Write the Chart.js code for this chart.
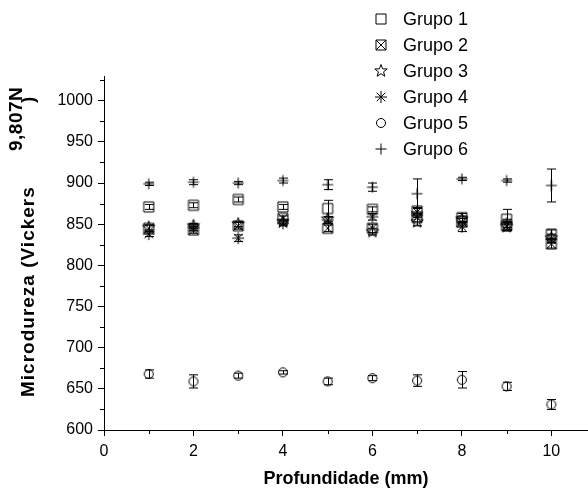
<!DOCTYPE html>
<html><head><meta charset="utf-8">
<script src="https://cdn.jsdelivr.net/npm/chart.js@4.4.0/dist/chart.umd.min.js"></script>
<style>
html,body{margin:0;padding:0;background:#fff;}
#wrap{position:relative;width:588px;height:494px;overflow:hidden;}
#c{position:absolute;left:0;top:0;}
.yt{position:absolute;transform:rotate(-90deg);transform-origin:left top;white-space:nowrap;font-family:"Liberation Sans",Arial,sans-serif;font-weight:bold;color:#000;}
.li{position:absolute;white-space:nowrap;font:18px "Liberation Sans",Arial,sans-serif;color:#000;line-height:20px;}
.ic{position:absolute;}
</style></head><body>
<div id="wrap">
<canvas id="c" width="588" height="494"></canvas>
<div class="yt" style="left:18px;top:397px;font-size:19px;line-height:20px;letter-spacing:1px;">Microdureza (Vickers</div>
<div class="yt" style="left:6px;top:151px;font-size:19px;line-height:20px;letter-spacing:0.5px;">9,807N</div>
<div class="yt" style="left:18px;top:103px;font-size:19px;line-height:20px;">)</div>
<div id="legend"></div>
</div>
<script>
// ---- data ----
const depths = [1, 2, 3, 4, 5, 6, 7, 8, 9, 10];
const seriesNames = ['Grupo 1', 'Grupo 2', 'Grupo 3', 'Grupo 4', 'Grupo 5', 'Grupo 6'];
const grupo1 = [871, 873, 880, 871, 869, 868, 866, 858, 856, 838];
const grupo1Err = [3, 3, 3, 3, 10, 3, 4, 5, 12, 5];
const grupo2 = [845, 843, 848, 857, 845, 845, 858, 853, 848, 826];
const grupo2Err = [4, 4, 4, 3, 4, 5, 5, 4, 5, 5];
const grupo3 = [846, 848, 850, 853, 856, 841, 853, 856, 847, 833];
const grupo3Err = [3, 3, 3, 3, 3, 4, 5, 4, 5, 5];
const grupo4 = [838, 846, 833, 851, 855, 859, 865, 847, 851, 832];
const grupo4Err = [3, 4, 4, 3, 4, 4, 5, 6, 5, 5];
const grupo5 = [668, 659, 666, 670, 659, 663, 660, 661, 653, 631];
const grupo5Err = [5, 8, 3, 2, 4, 3, 7, 10, 5, 6];
const grupo6 = [899, 901, 900, 903, 898, 895, 887, 905, 903, 897];
const grupo6Err = [2, 3, 2, 3, 6, 5, 18, 2, 2, 20];
const xTickLabels = ['0', '2', '4', '6', '8', '10'];
const yTickLabels = ['600', '650', '700', '750', '800', '850', '900', '950', '1000'];

const allMeans = [grupo1, grupo2, grupo3, grupo4, grupo5, grupo6];
const allErrs = [grupo1Err, grupo2Err, grupo3Err, grupo4Err, grupo5Err, grupo6Err];
const symbols = ['square', 'sqx', 'star5', 'asterisk', 'circle', 'plus'];

function drawSym(g, type, cx, cy) {
  g.save();
  g.strokeStyle = '#000'; g.lineWidth = 1;
  g.beginPath();
  if (type === 'square') {
    g.rect(cx - 5, cy - 5, 10, 10);
  } else if (type === 'sqx') {
    g.rect(cx - 5, cy - 5, 10, 10);
    g.moveTo(cx - 5, cy - 5); g.lineTo(cx + 5, cy + 5);
    g.moveTo(cx + 5, cy - 5); g.lineTo(cx - 5, cy + 5);
  } else if (type === 'star5') {
    const R = 6.5, r = 2.7;
    for (let i = 0; i < 10; i++) {
      const a = -Math.PI / 2 + i * Math.PI / 5;
      const rr = i % 2 === 0 ? R : r;
      const px = cx + rr * Math.cos(a), py = cy + rr * Math.sin(a);
      if (i === 0) g.moveTo(px, py); else g.lineTo(px, py);
    }
    g.closePath();
  } else if (type === 'asterisk') {
    const R = 6, d = R * Math.SQRT1_2;
    g.moveTo(cx - R, cy); g.lineTo(cx + R, cy);
    g.moveTo(cx, cy - R); g.lineTo(cx, cy + R);
    g.moveTo(cx - d, cy - d); g.lineTo(cx + d, cy + d);
    g.moveTo(cx + d, cy - d); g.lineTo(cx - d, cy + d);
  } else if (type === 'circle') {
    g.arc(cx, cy, 4.5, 0, Math.PI * 2);
  } else if (type === 'plus') {
    g.moveTo(cx - 5.5, cy); g.lineTo(cx + 5.5, cy);
    g.moveTo(cx, cy - 5.5); g.lineTo(cx, cy + 5.5);
  }
  g.stroke();
  g.restore();
}
function symCanvas(type) {
  const c = document.createElement('canvas');
  c.width = 16; c.height = 16;
  drawSym(c.getContext('2d'), type, 8, 8);
  return c;
}

const datasets = seriesNames.map((name, i) => ({
  label: name,
  data: depths.map((d, j) => ({ x: d, y: allMeans[i][j], e: allErrs[i][j] })),
  pointStyle: symCanvas(symbols[i]),
  pointRadius: 6,
  pointHoverRadius: 6,
  showLine: false,
  clip: false
}));

const errorBars = {
  id: 'errorBars',
  beforeDatasetsDraw(chart) {
    const { ctx, scales: { x, y } } = chart;
    ctx.save();
    ctx.strokeStyle = '#000'; ctx.lineWidth = 1;
    chart.data.datasets.forEach(ds => {
      ds.data.forEach(p => {
        const px = Math.round(x.getPixelForValue(p.x)) + 0.5;
        const t = y.getPixelForValue(p.y + p.e), b = y.getPixelForValue(p.y - p.e);
        ctx.beginPath();
        ctx.moveTo(px, t); ctx.lineTo(px, b);
        ctx.moveTo(px - 4.5, t); ctx.lineTo(px + 4.5, t);
        ctx.moveTo(px - 4.5, b); ctx.lineTo(px + 4.5, b);
        ctx.stroke();
      });
    });
    ctx.restore();
  }
};

const minorTicks = {
  id: 'minorTicks',
  afterDraw(chart) {
    const { ctx, scales: { x, y } } = chart;
    ctx.save();
    ctx.strokeStyle = '#000'; ctx.lineWidth = 1;
    ctx.beginPath();
    for (let v = 1; v <= 10; v += 2) {
      const px = Math.round(x.getPixelForValue(v)) + 0.5;
      ctx.moveTo(px, y.bottom); ctx.lineTo(px, y.bottom + 4);
    }
    for (let v = 625; v <= 1030; v += 50) {
      const py = Math.round(y.getPixelForValue(v)) + 0.5;
      ctx.moveTo(x.left, py); ctx.lineTo(x.left - 4, py);
    }
    ctx.stroke();
    ctx.restore();
  }
};

const fam = '"Liberation Sans", Arial, sans-serif';
new Chart(document.getElementById('c'), {
  type: 'scatter',
  data: { datasets },
  options: {
    responsive: false,
    animation: false,
    devicePixelRatio: 1,
    layout: { autoPadding: false, padding: { top: 76, left: 0, right: 0, bottom: 0 } },
    plugins: { legend: { display: false }, tooltip: { enabled: false } },
    scales: {
      x: {
        type: 'linear', min: 0, max: 10.82,
        afterFit(s) { s.height = 64; s.paddingRight = 0; s.paddingLeft = 0; },
        border: { color: '#000', width: 1 },
        grid: { drawOnChartArea: false, tickLength: 6, tickColor: '#000' },
        afterBuildTicks(s) { s.ticks = xTickLabels.map(t => ({ value: Number(t) })); },
        ticks: { color: '#000', padding: 6, maxRotation: 0, autoSkip: false, font: { family: fam, size: 16 },
          callback: (v) => xTickLabels.includes(String(v)) ? String(v) : '' },
        title: { display: true, text: 'Profundidade (mm)', color: '#000', font: { family: fam, size: 18, weight: 'bold' }, padding: { top: 4, bottom: 4 } }
      },
      y: {
        type: 'linear', min: 600, max: 1030,
        afterFit(s) { s.width = 104; s.paddingTop = 0; s.paddingBottom = 0; },
        border: { color: '#000', width: 1 },
        grid: { drawOnChartArea: false, tickLength: 6, tickColor: '#000' },
        afterBuildTicks(s) { s.ticks = yTickLabels.map(t => ({ value: Number(t) })); },
        ticks: { color: '#000', padding: 5, autoSkip: false, font: { family: fam, size: 16 },
          callback: (v) => String(v) }
      }
    }
  },
  plugins: [errorBars, minorTicks]
});

// legend (HTML text + drawn symbols)
const legend = document.getElementById('legend');
seriesNames.forEach((name, i) => {
  const cy = 19 + i * 26;
  const ic = symCanvas(symbols[i]);
  ic.className = 'ic';
  ic.style.left = (381 - 8) + 'px';
  ic.style.top = (cy - 8) + 'px';
  legend.appendChild(ic);
  const t = document.createElement('div');
  t.className = 'li';
  t.style.left = '403px';
  t.style.top = (cy - 10) + 'px';
  t.textContent = name;
  legend.appendChild(t);
});
</script>
</body></html>
